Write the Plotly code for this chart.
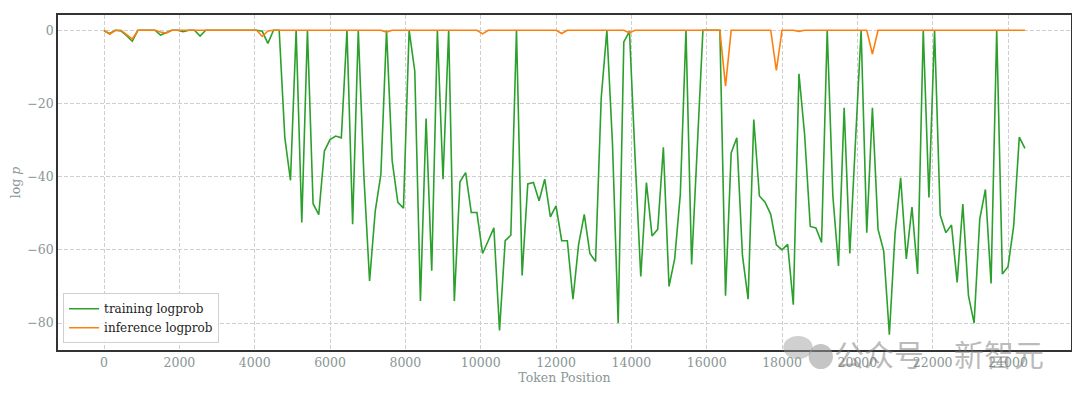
import plotly.graph_objects as go

step = 150
n_points = 164
token_pos = [i * step for i in range(n_points)]

training_logprob = [
    -0.2, -0.9, 0, -0.2, -1.5, -3.0, 0, 0, 0, 0,
    -1.3, -0.6, 0, 0, -0.4, 0, 0, -1.6, 0, 0,
    0, 0, 0, 0, 0, 0, 0, 0, -0.3, -3.6,
    0, 0, -29.4, -41.0, 0, -52.5, 0, -47.4, -50.4, -33.0,
    -29.9, -28.9, -29.4, 0, -53.0, 0, -40.0, -68.5, -49.4, -39.4,
    0, -35.7, -47.0, -48.6, 0, -11.2, -74.0, -24.1, -65.7, 0,
    -40.7, 0, -74.0, -41.4, -38.9, -49.8, -49.8, -61.0, -57.5, -54.0,
    -82.0, -57.5, -56.0, 0, -67.0, -42.0, -41.6, -46.6, -40.7, -51.0,
    -48.0, -57.5, -57.5, -73.5, -58.5, -50.3, -61.0, -63.2, -18.5, 0,
    -31.2, -80.0, -3.2, -0.3, -35.0, -67.3, -41.6, -56.2, -54.4, -32.0,
    -70.0, -62.5, -44.8, 0, -64.0, -32.0, 0, 0, 0, 0,
    -72.5, -33.5, -29.4, -61.6, -73.5, -24.4, -45.3, -47.0, -50.3, -58.6,
    -60.0, -58.5, -75.0, -11.9, -28.5, -53.6, -54.0, -58.0, 0, -45.3,
    -64.4, -21.2, -61.0, -30.0, 0, -55.3, -21.2, -54.4, -60.3, -83.2,
    -55.7, -40.3, -62.5, -48.3, -66.6, 0, -45.7, 0, -50.5, -55.3,
    -53.2, -68.9, -47.5, -72.5, -80.0, -51.6, -43.5, -69.2, 0, -66.6,
    -64.6, -53.5, -29.2, -32.3,
]

inference_logprob = [0.0] * n_points
inference_dips = {1: -1.1, 4: -1.2, 5: -2.4, 10: -0.5, 11: -0.8, 28: -1.7, 29: -0.2,
                  50: -0.5, 67: -1.0, 81: -0.9, 93: -0.7, 110: -15.3, 119: -11.0,
                  123: -0.3, 136: -6.5}
for k, v in inference_dips.items():
    inference_logprob[k] = v

x_ticks = list(range(0, 24001, 2000))
y_ticks = [0, -20, -40, -60, -80]

GREEN = "#2ca02c"
ORANGE = "#ff7f0e"
TICK = "#8a9696"
FONT = "DejaVu Serif"

xr = (max(token_pos) - min(token_pos))
yr = (max(training_logprob) - min(training_logprob))
x_range = [min(token_pos) - 0.05 * xr, max(token_pos) + 0.05 * xr]
y_range = [min(training_logprob) - 0.05 * yr, 0 + 0.05 * yr]

fig = go.Figure()
fig.add_trace(go.Scatter(x=token_pos, y=training_logprob, mode="lines",
                         name="training logprob", line=dict(color=GREEN, width=1.6)))
fig.add_trace(go.Scatter(x=token_pos, y=inference_logprob, mode="lines",
                         name="inference logprob", line=dict(color=ORANGE, width=1.6)))

axis_common = dict(showgrid=True, gridcolor="#cfcfcf", griddash="4px,2px", gridwidth=1,
                   showline=True, linecolor="#333333", linewidth=1.5, mirror=True,
                   zeroline=False, ticks="", tickfont=dict(family=FONT, size=12.5, color=TICK))

fig.update_xaxes(range=x_range, tickvals=x_ticks, ticktext=[str(t) for t in x_ticks],
                 title=dict(text="Token Position", font=dict(family=FONT, size=12.5, color=TICK), standoff=2),
                 **axis_common)
fig.update_yaxes(range=y_range, tickvals=y_ticks, ticktext=["0" if t == 0 else "\u2212" + str(-t) for t in y_ticks],
                 title=dict(text="log <i>p</i>", font=dict(family=FONT, size=12.5, color=TICK), standoff=4),
                 **axis_common)

fig.update_layout(
    width=1080, height=397,
    margin=dict(l=50, r=17, t=7, b=55, autoexpand=False),
    paper_bgcolor="white", plot_bgcolor="white",
    font=dict(family=FONT, color="#222222"),
    legend=dict(x=0.005, y=0.02, xanchor="left", yanchor="bottom",
                bgcolor="rgba(255,255,255,0.85)", bordercolor="#d0d0d0", borderwidth=1,
                font=dict(family=FONT, size=12, color="#222222"), tracegroupgap=0,
                itemwidth=30),
    showlegend=True,
)

# watermark (as in the reference image)
fig.add_shape(type="circle", xref="paper", yref="paper", x0=0.716, x1=0.745, y0=-0.027, y1=0.042,
              fillcolor="rgba(150,150,150,0.45)", line=dict(width=0))
fig.add_shape(type="circle", xref="paper", yref="paper", x0=0.741, x1=0.765, y0=-0.057, y1=0.018,
              fillcolor="rgba(150,150,150,0.55)", line=dict(width=0))
fig.add_annotation(text="公众号\u3000新智元", xref="paper", yref="paper", x=0.975, y=-0.01,
                   xanchor="right", yanchor="middle", showarrow=False,
                   font=dict(family="Noto Sans CJK SC", size=30, color="rgba(120,120,120,0.5)"))

fig.write_html("out.html")
